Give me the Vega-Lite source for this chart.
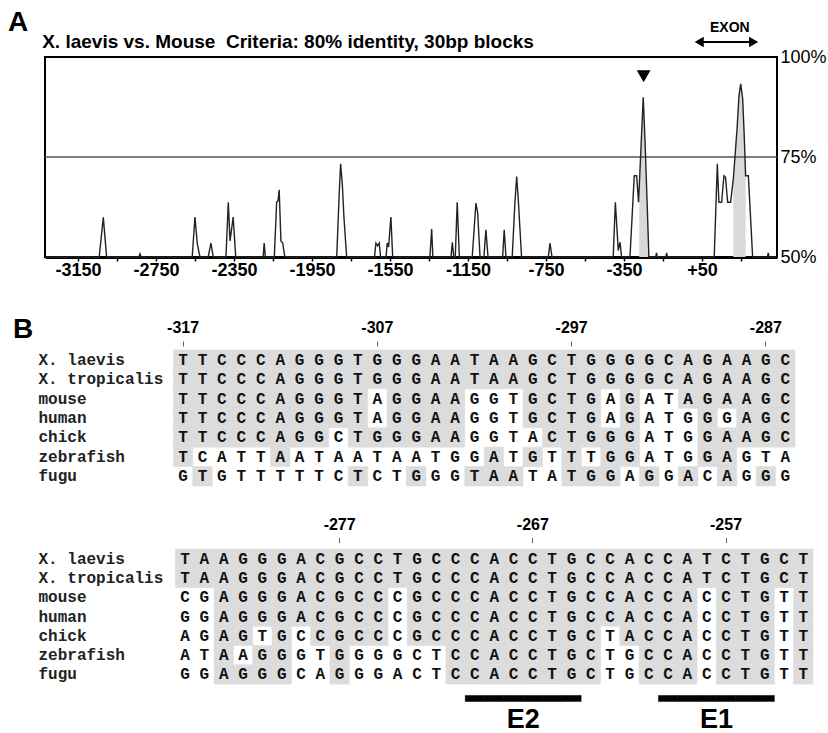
{
"$schema": "https://vega.github.io/schema/vega-lite/v6.json",
"background": "white",
"padding": {"left": 8, "top": 9, "right": 2, "bottom": 2},
"bounds": "flush",
"spacing": 62.5,
"title": {"text": "A", "anchor": "start", "font": "Liberation Sans", "fontSize": 28, "fontWeight": "bold", "color": "black", "dx": -5, "dy": 19, "offset": 2},
"config": {"view": {"stroke": null}, "font": "Liberation Sans", "axis": {"grid": false}},
"datasets": {
"curve": [
{"pos":-3319,"pct":50},
{"pos":-3041,"pct":50},{"pos":-3020,"pct":59.9},{"pos":-3003,"pct":50},
{"pos":-2838,"pct":50},{"pos":-2832,"pct":50.8},{"pos":-2826,"pct":50},
{"pos":-2564,"pct":50},{"pos":-2550,"pct":60},{"pos":-2538,"pct":53.3},{"pos":-2524,"pct":50},
{"pos":-2482,"pct":50},{"pos":-2468,"pct":53.5},{"pos":-2456,"pct":50},
{"pos":-2391,"pct":50},{"pos":-2379,"pct":63.7},{"pos":-2370,"pct":54},{"pos":-2354,"pct":60},{"pos":-2341,"pct":50},
{"pos":-2200,"pct":50},{"pos":-2195,"pct":53.5},{"pos":-2189,"pct":50},
{"pos":-2143,"pct":50},{"pos":-2131,"pct":63.7},{"pos":-2124,"pct":64},{"pos":-2118,"pct":66.8},{"pos":-2109,"pct":54},{"pos":-2100,"pct":53.5},{"pos":-2089,"pct":50},
{"pos":-1823,"pct":50},{"pos":-1810,"pct":66},{"pos":-1803,"pct":73.3},{"pos":-1794,"pct":68},{"pos":-1786,"pct":60},{"pos":-1772,"pct":50},
{"pos":-1629,"pct":50},{"pos":-1622,"pct":53.5},{"pos":-1613,"pct":52.8},{"pos":-1605,"pct":53.5},{"pos":-1598,"pct":50},
{"pos":-1570,"pct":50},{"pos":-1564,"pct":53.5},{"pos":-1557,"pct":52.5},{"pos":-1545,"pct":60},{"pos":-1536,"pct":50},
{"pos":-1345,"pct":50},{"pos":-1336,"pct":57},{"pos":-1330,"pct":50},
{"pos":-1237,"pct":50},{"pos":-1230,"pct":53.7},{"pos":-1223,"pct":50},{"pos":-1215,"pct":50},{"pos":-1205,"pct":63.7},{"pos":-1194,"pct":50},
{"pos":-1128,"pct":50},{"pos":-1109,"pct":63.5},{"pos":-1100,"pct":61},{"pos":-1088,"pct":50},
{"pos":-1068,"pct":50},{"pos":-1058,"pct":56.8},{"pos":-1047,"pct":50},
{"pos":-972,"pct":50},{"pos":-964,"pct":56.8},{"pos":-955,"pct":50},
{"pos":-923,"pct":50},{"pos":-909,"pct":63.7},{"pos":-900,"pct":70.1},{"pos":-892,"pct":64.5},{"pos":-875,"pct":50},
{"pos":-738,"pct":50},{"pos":-729,"pct":53.5},{"pos":-719,"pct":50},
{"pos":-405,"pct":50},{"pos":-394,"pct":63.7},{"pos":-379,"pct":51.6},{"pos":-370,"pct":53.7},{"pos":-362,"pct":50},
{"pos":-319,"pct":50},{"pos":-297,"pct":70.3},{"pos":-285,"pct":70.3},{"pos":-275,"pct":63.7},{"pos":-251,"pct":89.9},{"pos":-241,"pct":78},{"pos":-230,"pct":62},{"pos":-222,"pct":50},
{"pos":-187,"pct":50},{"pos":-183,"pct":51},{"pos":-179,"pct":50},
{"pos":-135,"pct":50},{"pos":-131,"pct":51},{"pos":-127,"pct":50},
{"pos":113,"pct":50},{"pos":129,"pct":73.3},{"pos":137,"pct":63.7},{"pos":151,"pct":63.7},{"pos":163,"pct":70.3},{"pos":171,"pct":69.9},{"pos":182,"pct":63.7},{"pos":197,"pct":63.7},{"pos":211,"pct":69.5},{"pos":230,"pct":82},{"pos":240,"pct":90.3},{"pos":249,"pct":93.3},{"pos":259,"pct":89.5},{"pos":267,"pct":80.3},{"pos":274,"pct":70.3},{"pos":288,"pct":70.3},{"pos":310,"pct":50},
{"pos":386,"pct":50},{"pos":390,"pct":51},{"pos":394,"pct":50},
{"pos":435,"pct":50}
],
"fill": [
{"g":1,"pos":-271.5,"pct":67.5},{"g":1,"pos":-251,"pct":89.9},{"g":1,"pos":-241,"pct":78},{"g":1,"pos":-230,"pct":62},{"g":1,"pos":-225.2,"pct":54.8},
{"g":2,"pos":211,"pct":69.5},{"g":2,"pos":230,"pct":82},{"g":2,"pos":240,"pct":90.3},{"g":2,"pos":249,"pct":93.3},{"g":2,"pos":259,"pct":89.5},{"g":2,"pos":267,"pct":80.3},{"g":2,"pos":274,"pct":70.3}
],
"thr": [{"v": 75}],
"peak": [{"pos": -249, "pct": 95.2}],
"exon": [{"a": 20, "b": 330, "lx": 36, "rx": 315, "tx": 193, "y": 103.75, "ty": 107.2, "label": "EXON"}],
"ebar": [
{"s":"E-bar","p":-270},{"s":"E-bar","p":-269},{"s":"E-bar","p":-268},{"s":"E-bar","p":-267},{"s":"E-bar","p":-266},{"s":"E-bar","p":-265},
{"s":"E-bar","p":-260},{"s":"E-bar","p":-259},{"s":"E-bar","p":-258},{"s":"E-bar","p":-257},{"s":"E-bar","p":-256},{"s":"E-bar","p":-255}
],
"elab": [{"s":"E-label","p":-268,"t":"E2"},{"s":"E-label","p":-258,"t":"E1"}],
"seq": [
{"s":"X. laevis","p":-317,"b":"T","m":1},{"s":"X. laevis","p":-316,"b":"T","m":1},{"s":"X. laevis","p":-315,"b":"C","m":1},{"s":"X. laevis","p":-314,"b":"C","m":1},{"s":"X. laevis","p":-313,"b":"C","m":1},{"s":"X. laevis","p":-312,"b":"A","m":1},{"s":"X. laevis","p":-311,"b":"G","m":1},{"s":"X. laevis","p":-310,"b":"G","m":1},{"s":"X. laevis","p":-309,"b":"G","m":1},{"s":"X. laevis","p":-308,"b":"T","m":1},{"s":"X. laevis","p":-307,"b":"G","m":1},{"s":"X. laevis","p":-306,"b":"G","m":1},{"s":"X. laevis","p":-305,"b":"G","m":1},{"s":"X. laevis","p":-304,"b":"A","m":1},{"s":"X. laevis","p":-303,"b":"A","m":1},{"s":"X. laevis","p":-302,"b":"T","m":1},{"s":"X. laevis","p":-301,"b":"A","m":1},{"s":"X. laevis","p":-300,"b":"A","m":1},{"s":"X. laevis","p":-299,"b":"G","m":1},{"s":"X. laevis","p":-298,"b":"C","m":1},{"s":"X. laevis","p":-297,"b":"T","m":1},{"s":"X. laevis","p":-296,"b":"G","m":1},{"s":"X. laevis","p":-295,"b":"G","m":1},{"s":"X. laevis","p":-294,"b":"G","m":1},{"s":"X. laevis","p":-293,"b":"G","m":1},{"s":"X. laevis","p":-292,"b":"C","m":1},{"s":"X. laevis","p":-291,"b":"A","m":1},{"s":"X. laevis","p":-290,"b":"G","m":1},{"s":"X. laevis","p":-289,"b":"A","m":1},{"s":"X. laevis","p":-288,"b":"A","m":1},{"s":"X. laevis","p":-287,"b":"G","m":1},{"s":"X. laevis","p":-286,"b":"C","m":1},
{"s":"X. laevis","p":-285,"b":"T","m":1},{"s":"X. laevis","p":-284,"b":"A","m":1},{"s":"X. laevis","p":-283,"b":"A","m":1},{"s":"X. laevis","p":-282,"b":"G","m":1},{"s":"X. laevis","p":-281,"b":"G","m":1},{"s":"X. laevis","p":-280,"b":"G","m":1},{"s":"X. laevis","p":-279,"b":"A","m":1},{"s":"X. laevis","p":-278,"b":"C","m":1},{"s":"X. laevis","p":-277,"b":"G","m":1},{"s":"X. laevis","p":-276,"b":"C","m":1},{"s":"X. laevis","p":-275,"b":"C","m":1},{"s":"X. laevis","p":-274,"b":"T","m":1},{"s":"X. laevis","p":-273,"b":"G","m":1},{"s":"X. laevis","p":-272,"b":"C","m":1},{"s":"X. laevis","p":-271,"b":"C","m":1},{"s":"X. laevis","p":-270,"b":"C","m":1},{"s":"X. laevis","p":-269,"b":"A","m":1},{"s":"X. laevis","p":-268,"b":"C","m":1},{"s":"X. laevis","p":-267,"b":"C","m":1},{"s":"X. laevis","p":-266,"b":"T","m":1},{"s":"X. laevis","p":-265,"b":"G","m":1},{"s":"X. laevis","p":-264,"b":"C","m":1},{"s":"X. laevis","p":-263,"b":"C","m":1},{"s":"X. laevis","p":-262,"b":"A","m":1},{"s":"X. laevis","p":-261,"b":"C","m":1},{"s":"X. laevis","p":-260,"b":"C","m":1},{"s":"X. laevis","p":-259,"b":"A","m":1},{"s":"X. laevis","p":-258,"b":"T","m":1},{"s":"X. laevis","p":-257,"b":"C","m":1},{"s":"X. laevis","p":-256,"b":"T","m":1},{"s":"X. laevis","p":-255,"b":"G","m":1},{"s":"X. laevis","p":-254,"b":"C","m":1},{"s":"X. laevis","p":-253,"b":"T","m":1},
{"s":"X. tropicalis","p":-317,"b":"T","m":1},{"s":"X. tropicalis","p":-316,"b":"T","m":1},{"s":"X. tropicalis","p":-315,"b":"C","m":1},{"s":"X. tropicalis","p":-314,"b":"C","m":1},{"s":"X. tropicalis","p":-313,"b":"C","m":1},{"s":"X. tropicalis","p":-312,"b":"A","m":1},{"s":"X. tropicalis","p":-311,"b":"G","m":1},{"s":"X. tropicalis","p":-310,"b":"G","m":1},{"s":"X. tropicalis","p":-309,"b":"G","m":1},{"s":"X. tropicalis","p":-308,"b":"T","m":1},{"s":"X. tropicalis","p":-307,"b":"G","m":1},{"s":"X. tropicalis","p":-306,"b":"G","m":1},{"s":"X. tropicalis","p":-305,"b":"G","m":1},{"s":"X. tropicalis","p":-304,"b":"A","m":1},{"s":"X. tropicalis","p":-303,"b":"A","m":1},{"s":"X. tropicalis","p":-302,"b":"T","m":1},{"s":"X. tropicalis","p":-301,"b":"A","m":1},{"s":"X. tropicalis","p":-300,"b":"A","m":1},{"s":"X. tropicalis","p":-299,"b":"G","m":1},{"s":"X. tropicalis","p":-298,"b":"C","m":1},{"s":"X. tropicalis","p":-297,"b":"T","m":1},{"s":"X. tropicalis","p":-296,"b":"G","m":1},{"s":"X. tropicalis","p":-295,"b":"G","m":1},{"s":"X. tropicalis","p":-294,"b":"G","m":1},{"s":"X. tropicalis","p":-293,"b":"G","m":1},{"s":"X. tropicalis","p":-292,"b":"C","m":1},{"s":"X. tropicalis","p":-291,"b":"A","m":1},{"s":"X. tropicalis","p":-290,"b":"G","m":1},{"s":"X. tropicalis","p":-289,"b":"A","m":1},{"s":"X. tropicalis","p":-288,"b":"A","m":1},{"s":"X. tropicalis","p":-287,"b":"G","m":1},{"s":"X. tropicalis","p":-286,"b":"C","m":1},
{"s":"X. tropicalis","p":-285,"b":"T","m":1},{"s":"X. tropicalis","p":-284,"b":"A","m":1},{"s":"X. tropicalis","p":-283,"b":"A","m":1},{"s":"X. tropicalis","p":-282,"b":"G","m":1},{"s":"X. tropicalis","p":-281,"b":"G","m":1},{"s":"X. tropicalis","p":-280,"b":"G","m":1},{"s":"X. tropicalis","p":-279,"b":"A","m":1},{"s":"X. tropicalis","p":-278,"b":"C","m":1},{"s":"X. tropicalis","p":-277,"b":"G","m":1},{"s":"X. tropicalis","p":-276,"b":"C","m":1},{"s":"X. tropicalis","p":-275,"b":"C","m":1},{"s":"X. tropicalis","p":-274,"b":"T","m":1},{"s":"X. tropicalis","p":-273,"b":"G","m":1},{"s":"X. tropicalis","p":-272,"b":"C","m":1},{"s":"X. tropicalis","p":-271,"b":"C","m":1},{"s":"X. tropicalis","p":-270,"b":"C","m":1},{"s":"X. tropicalis","p":-269,"b":"A","m":1},{"s":"X. tropicalis","p":-268,"b":"C","m":1},{"s":"X. tropicalis","p":-267,"b":"C","m":1},{"s":"X. tropicalis","p":-266,"b":"T","m":1},{"s":"X. tropicalis","p":-265,"b":"G","m":1},{"s":"X. tropicalis","p":-264,"b":"C","m":1},{"s":"X. tropicalis","p":-263,"b":"C","m":1},{"s":"X. tropicalis","p":-262,"b":"A","m":1},{"s":"X. tropicalis","p":-261,"b":"C","m":1},{"s":"X. tropicalis","p":-260,"b":"C","m":1},{"s":"X. tropicalis","p":-259,"b":"A","m":1},{"s":"X. tropicalis","p":-258,"b":"T","m":1},{"s":"X. tropicalis","p":-257,"b":"C","m":1},{"s":"X. tropicalis","p":-256,"b":"T","m":1},{"s":"X. tropicalis","p":-255,"b":"G","m":1},{"s":"X. tropicalis","p":-254,"b":"C","m":1},{"s":"X. tropicalis","p":-253,"b":"T","m":1},
{"s":"mouse","p":-317,"b":"T","m":1},{"s":"mouse","p":-316,"b":"T","m":1},{"s":"mouse","p":-315,"b":"C","m":1},{"s":"mouse","p":-314,"b":"C","m":1},{"s":"mouse","p":-313,"b":"C","m":1},{"s":"mouse","p":-312,"b":"A","m":1},{"s":"mouse","p":-311,"b":"G","m":1},{"s":"mouse","p":-310,"b":"G","m":1},{"s":"mouse","p":-309,"b":"G","m":1},{"s":"mouse","p":-308,"b":"T","m":1},{"s":"mouse","p":-307,"b":"A","m":0},{"s":"mouse","p":-306,"b":"G","m":1},{"s":"mouse","p":-305,"b":"G","m":1},{"s":"mouse","p":-304,"b":"A","m":1},{"s":"mouse","p":-303,"b":"A","m":1},{"s":"mouse","p":-302,"b":"G","m":0},{"s":"mouse","p":-301,"b":"G","m":0},{"s":"mouse","p":-300,"b":"T","m":0},{"s":"mouse","p":-299,"b":"G","m":1},{"s":"mouse","p":-298,"b":"C","m":1},{"s":"mouse","p":-297,"b":"T","m":1},{"s":"mouse","p":-296,"b":"G","m":1},{"s":"mouse","p":-295,"b":"A","m":0},{"s":"mouse","p":-294,"b":"G","m":1},{"s":"mouse","p":-293,"b":"A","m":0},{"s":"mouse","p":-292,"b":"T","m":0},{"s":"mouse","p":-291,"b":"A","m":1},{"s":"mouse","p":-290,"b":"G","m":1},{"s":"mouse","p":-289,"b":"A","m":1},{"s":"mouse","p":-288,"b":"A","m":1},{"s":"mouse","p":-287,"b":"G","m":1},{"s":"mouse","p":-286,"b":"C","m":1},
{"s":"mouse","p":-285,"b":"C","m":0},{"s":"mouse","p":-284,"b":"G","m":0},{"s":"mouse","p":-283,"b":"A","m":1},{"s":"mouse","p":-282,"b":"G","m":1},{"s":"mouse","p":-281,"b":"G","m":1},{"s":"mouse","p":-280,"b":"G","m":1},{"s":"mouse","p":-279,"b":"A","m":1},{"s":"mouse","p":-278,"b":"C","m":1},{"s":"mouse","p":-277,"b":"G","m":1},{"s":"mouse","p":-276,"b":"C","m":1},{"s":"mouse","p":-275,"b":"C","m":1},{"s":"mouse","p":-274,"b":"C","m":0},{"s":"mouse","p":-273,"b":"G","m":1},{"s":"mouse","p":-272,"b":"C","m":1},{"s":"mouse","p":-271,"b":"C","m":1},{"s":"mouse","p":-270,"b":"C","m":1},{"s":"mouse","p":-269,"b":"A","m":1},{"s":"mouse","p":-268,"b":"C","m":1},{"s":"mouse","p":-267,"b":"C","m":1},{"s":"mouse","p":-266,"b":"T","m":1},{"s":"mouse","p":-265,"b":"G","m":1},{"s":"mouse","p":-264,"b":"C","m":1},{"s":"mouse","p":-263,"b":"C","m":1},{"s":"mouse","p":-262,"b":"A","m":1},{"s":"mouse","p":-261,"b":"C","m":1},{"s":"mouse","p":-260,"b":"C","m":1},{"s":"mouse","p":-259,"b":"A","m":1},{"s":"mouse","p":-258,"b":"C","m":0},{"s":"mouse","p":-257,"b":"C","m":1},{"s":"mouse","p":-256,"b":"T","m":1},{"s":"mouse","p":-255,"b":"G","m":1},{"s":"mouse","p":-254,"b":"T","m":0},{"s":"mouse","p":-253,"b":"T","m":1},
{"s":"human","p":-317,"b":"T","m":1},{"s":"human","p":-316,"b":"T","m":1},{"s":"human","p":-315,"b":"C","m":1},{"s":"human","p":-314,"b":"C","m":1},{"s":"human","p":-313,"b":"C","m":1},{"s":"human","p":-312,"b":"A","m":1},{"s":"human","p":-311,"b":"G","m":1},{"s":"human","p":-310,"b":"G","m":1},{"s":"human","p":-309,"b":"G","m":1},{"s":"human","p":-308,"b":"T","m":1},{"s":"human","p":-307,"b":"A","m":0},{"s":"human","p":-306,"b":"G","m":1},{"s":"human","p":-305,"b":"G","m":1},{"s":"human","p":-304,"b":"A","m":1},{"s":"human","p":-303,"b":"A","m":1},{"s":"human","p":-302,"b":"G","m":0},{"s":"human","p":-301,"b":"G","m":0},{"s":"human","p":-300,"b":"T","m":0},{"s":"human","p":-299,"b":"G","m":1},{"s":"human","p":-298,"b":"C","m":1},{"s":"human","p":-297,"b":"T","m":1},{"s":"human","p":-296,"b":"G","m":1},{"s":"human","p":-295,"b":"A","m":0},{"s":"human","p":-294,"b":"G","m":1},{"s":"human","p":-293,"b":"A","m":0},{"s":"human","p":-292,"b":"T","m":0},{"s":"human","p":-291,"b":"G","m":0},{"s":"human","p":-290,"b":"G","m":1},{"s":"human","p":-289,"b":"G","m":0},{"s":"human","p":-288,"b":"A","m":1},{"s":"human","p":-287,"b":"G","m":1},{"s":"human","p":-286,"b":"C","m":1},
{"s":"human","p":-285,"b":"G","m":0},{"s":"human","p":-284,"b":"G","m":0},{"s":"human","p":-283,"b":"A","m":1},{"s":"human","p":-282,"b":"G","m":1},{"s":"human","p":-281,"b":"G","m":1},{"s":"human","p":-280,"b":"G","m":1},{"s":"human","p":-279,"b":"A","m":1},{"s":"human","p":-278,"b":"C","m":1},{"s":"human","p":-277,"b":"G","m":1},{"s":"human","p":-276,"b":"C","m":1},{"s":"human","p":-275,"b":"C","m":1},{"s":"human","p":-274,"b":"C","m":0},{"s":"human","p":-273,"b":"G","m":1},{"s":"human","p":-272,"b":"C","m":1},{"s":"human","p":-271,"b":"C","m":1},{"s":"human","p":-270,"b":"C","m":1},{"s":"human","p":-269,"b":"A","m":1},{"s":"human","p":-268,"b":"C","m":1},{"s":"human","p":-267,"b":"C","m":1},{"s":"human","p":-266,"b":"T","m":1},{"s":"human","p":-265,"b":"G","m":1},{"s":"human","p":-264,"b":"C","m":1},{"s":"human","p":-263,"b":"C","m":1},{"s":"human","p":-262,"b":"A","m":1},{"s":"human","p":-261,"b":"C","m":1},{"s":"human","p":-260,"b":"C","m":1},{"s":"human","p":-259,"b":"A","m":1},{"s":"human","p":-258,"b":"C","m":0},{"s":"human","p":-257,"b":"C","m":1},{"s":"human","p":-256,"b":"T","m":1},{"s":"human","p":-255,"b":"G","m":1},{"s":"human","p":-254,"b":"T","m":0},{"s":"human","p":-253,"b":"T","m":1},
{"s":"chick","p":-317,"b":"T","m":1},{"s":"chick","p":-316,"b":"T","m":1},{"s":"chick","p":-315,"b":"C","m":1},{"s":"chick","p":-314,"b":"C","m":1},{"s":"chick","p":-313,"b":"C","m":1},{"s":"chick","p":-312,"b":"A","m":1},{"s":"chick","p":-311,"b":"G","m":1},{"s":"chick","p":-310,"b":"G","m":1},{"s":"chick","p":-309,"b":"C","m":0},{"s":"chick","p":-308,"b":"T","m":1},{"s":"chick","p":-307,"b":"G","m":1},{"s":"chick","p":-306,"b":"G","m":1},{"s":"chick","p":-305,"b":"G","m":1},{"s":"chick","p":-304,"b":"A","m":1},{"s":"chick","p":-303,"b":"A","m":1},{"s":"chick","p":-302,"b":"G","m":0},{"s":"chick","p":-301,"b":"G","m":0},{"s":"chick","p":-300,"b":"T","m":0},{"s":"chick","p":-299,"b":"A","m":0},{"s":"chick","p":-298,"b":"C","m":1},{"s":"chick","p":-297,"b":"T","m":1},{"s":"chick","p":-296,"b":"G","m":1},{"s":"chick","p":-295,"b":"G","m":1},{"s":"chick","p":-294,"b":"G","m":1},{"s":"chick","p":-293,"b":"A","m":0},{"s":"chick","p":-292,"b":"T","m":0},{"s":"chick","p":-291,"b":"G","m":0},{"s":"chick","p":-290,"b":"G","m":1},{"s":"chick","p":-289,"b":"A","m":1},{"s":"chick","p":-288,"b":"A","m":1},{"s":"chick","p":-287,"b":"G","m":1},{"s":"chick","p":-286,"b":"C","m":1},
{"s":"chick","p":-285,"b":"A","m":0},{"s":"chick","p":-284,"b":"G","m":0},{"s":"chick","p":-283,"b":"A","m":1},{"s":"chick","p":-282,"b":"G","m":1},{"s":"chick","p":-281,"b":"T","m":0},{"s":"chick","p":-280,"b":"G","m":1},{"s":"chick","p":-279,"b":"C","m":0},{"s":"chick","p":-278,"b":"C","m":1},{"s":"chick","p":-277,"b":"G","m":1},{"s":"chick","p":-276,"b":"C","m":1},{"s":"chick","p":-275,"b":"C","m":1},{"s":"chick","p":-274,"b":"C","m":0},{"s":"chick","p":-273,"b":"G","m":1},{"s":"chick","p":-272,"b":"C","m":1},{"s":"chick","p":-271,"b":"C","m":1},{"s":"chick","p":-270,"b":"C","m":1},{"s":"chick","p":-269,"b":"A","m":1},{"s":"chick","p":-268,"b":"C","m":1},{"s":"chick","p":-267,"b":"C","m":1},{"s":"chick","p":-266,"b":"T","m":1},{"s":"chick","p":-265,"b":"G","m":1},{"s":"chick","p":-264,"b":"C","m":1},{"s":"chick","p":-263,"b":"T","m":0},{"s":"chick","p":-262,"b":"A","m":1},{"s":"chick","p":-261,"b":"C","m":1},{"s":"chick","p":-260,"b":"C","m":1},{"s":"chick","p":-259,"b":"A","m":1},{"s":"chick","p":-258,"b":"C","m":0},{"s":"chick","p":-257,"b":"C","m":1},{"s":"chick","p":-256,"b":"T","m":1},{"s":"chick","p":-255,"b":"G","m":1},{"s":"chick","p":-254,"b":"T","m":0},{"s":"chick","p":-253,"b":"T","m":1},
{"s":"zebrafish","p":-317,"b":"T","m":1},{"s":"zebrafish","p":-316,"b":"C","m":0},{"s":"zebrafish","p":-315,"b":"A","m":0},{"s":"zebrafish","p":-314,"b":"T","m":0},{"s":"zebrafish","p":-313,"b":"T","m":0},{"s":"zebrafish","p":-312,"b":"A","m":1},{"s":"zebrafish","p":-311,"b":"A","m":0},{"s":"zebrafish","p":-310,"b":"T","m":0},{"s":"zebrafish","p":-309,"b":"A","m":0},{"s":"zebrafish","p":-308,"b":"A","m":0},{"s":"zebrafish","p":-307,"b":"T","m":0},{"s":"zebrafish","p":-306,"b":"A","m":0},{"s":"zebrafish","p":-305,"b":"A","m":0},{"s":"zebrafish","p":-304,"b":"T","m":0},{"s":"zebrafish","p":-303,"b":"G","m":0},{"s":"zebrafish","p":-302,"b":"G","m":0},{"s":"zebrafish","p":-301,"b":"A","m":1},{"s":"zebrafish","p":-300,"b":"T","m":0},{"s":"zebrafish","p":-299,"b":"G","m":1},{"s":"zebrafish","p":-298,"b":"T","m":0},{"s":"zebrafish","p":-297,"b":"T","m":1},{"s":"zebrafish","p":-296,"b":"T","m":0},{"s":"zebrafish","p":-295,"b":"G","m":1},{"s":"zebrafish","p":-294,"b":"G","m":1},{"s":"zebrafish","p":-293,"b":"A","m":0},{"s":"zebrafish","p":-292,"b":"T","m":0},{"s":"zebrafish","p":-291,"b":"G","m":0},{"s":"zebrafish","p":-290,"b":"G","m":1},{"s":"zebrafish","p":-289,"b":"A","m":1},{"s":"zebrafish","p":-288,"b":"G","m":0},{"s":"zebrafish","p":-287,"b":"T","m":0},{"s":"zebrafish","p":-286,"b":"A","m":0},
{"s":"zebrafish","p":-285,"b":"A","m":0},{"s":"zebrafish","p":-284,"b":"T","m":0},{"s":"zebrafish","p":-283,"b":"A","m":1},{"s":"zebrafish","p":-282,"b":"A","m":0},{"s":"zebrafish","p":-281,"b":"G","m":1},{"s":"zebrafish","p":-280,"b":"G","m":1},{"s":"zebrafish","p":-279,"b":"G","m":0},{"s":"zebrafish","p":-278,"b":"T","m":0},{"s":"zebrafish","p":-277,"b":"G","m":1},{"s":"zebrafish","p":-276,"b":"G","m":0},{"s":"zebrafish","p":-275,"b":"G","m":0},{"s":"zebrafish","p":-274,"b":"G","m":0},{"s":"zebrafish","p":-273,"b":"C","m":0},{"s":"zebrafish","p":-272,"b":"T","m":0},{"s":"zebrafish","p":-271,"b":"C","m":1},{"s":"zebrafish","p":-270,"b":"C","m":1},{"s":"zebrafish","p":-269,"b":"A","m":1},{"s":"zebrafish","p":-268,"b":"C","m":1},{"s":"zebrafish","p":-267,"b":"C","m":1},{"s":"zebrafish","p":-266,"b":"T","m":1},{"s":"zebrafish","p":-265,"b":"G","m":1},{"s":"zebrafish","p":-264,"b":"C","m":1},{"s":"zebrafish","p":-263,"b":"T","m":0},{"s":"zebrafish","p":-262,"b":"G","m":0},{"s":"zebrafish","p":-261,"b":"C","m":1},{"s":"zebrafish","p":-260,"b":"C","m":1},{"s":"zebrafish","p":-259,"b":"A","m":1},{"s":"zebrafish","p":-258,"b":"C","m":0},{"s":"zebrafish","p":-257,"b":"C","m":1},{"s":"zebrafish","p":-256,"b":"T","m":1},{"s":"zebrafish","p":-255,"b":"G","m":1},{"s":"zebrafish","p":-254,"b":"T","m":0},{"s":"zebrafish","p":-253,"b":"T","m":1},
{"s":"fugu","p":-317,"b":"G","m":0},{"s":"fugu","p":-316,"b":"T","m":1},{"s":"fugu","p":-315,"b":"G","m":0},{"s":"fugu","p":-314,"b":"T","m":0},{"s":"fugu","p":-313,"b":"T","m":0},{"s":"fugu","p":-312,"b":"T","m":0},{"s":"fugu","p":-311,"b":"T","m":0},{"s":"fugu","p":-310,"b":"T","m":0},{"s":"fugu","p":-309,"b":"C","m":0},{"s":"fugu","p":-308,"b":"T","m":1},{"s":"fugu","p":-307,"b":"C","m":0},{"s":"fugu","p":-306,"b":"T","m":0},{"s":"fugu","p":-305,"b":"G","m":1},{"s":"fugu","p":-304,"b":"G","m":0},{"s":"fugu","p":-303,"b":"G","m":0},{"s":"fugu","p":-302,"b":"T","m":1},{"s":"fugu","p":-301,"b":"A","m":1},{"s":"fugu","p":-300,"b":"A","m":1},{"s":"fugu","p":-299,"b":"T","m":0},{"s":"fugu","p":-298,"b":"A","m":0},{"s":"fugu","p":-297,"b":"T","m":1},{"s":"fugu","p":-296,"b":"G","m":1},{"s":"fugu","p":-295,"b":"G","m":1},{"s":"fugu","p":-294,"b":"A","m":0},{"s":"fugu","p":-293,"b":"G","m":1},{"s":"fugu","p":-292,"b":"G","m":0},{"s":"fugu","p":-291,"b":"A","m":1},{"s":"fugu","p":-290,"b":"C","m":0},{"s":"fugu","p":-289,"b":"A","m":1},{"s":"fugu","p":-288,"b":"G","m":0},{"s":"fugu","p":-287,"b":"G","m":1},{"s":"fugu","p":-286,"b":"G","m":0},
{"s":"fugu","p":-285,"b":"G","m":0},{"s":"fugu","p":-284,"b":"G","m":0},{"s":"fugu","p":-283,"b":"A","m":1},{"s":"fugu","p":-282,"b":"G","m":1},{"s":"fugu","p":-281,"b":"G","m":1},{"s":"fugu","p":-280,"b":"G","m":1},{"s":"fugu","p":-279,"b":"C","m":0},{"s":"fugu","p":-278,"b":"A","m":0},{"s":"fugu","p":-277,"b":"G","m":1},{"s":"fugu","p":-276,"b":"G","m":0},{"s":"fugu","p":-275,"b":"G","m":0},{"s":"fugu","p":-274,"b":"A","m":0},{"s":"fugu","p":-273,"b":"C","m":0},{"s":"fugu","p":-272,"b":"T","m":0},{"s":"fugu","p":-271,"b":"C","m":1},{"s":"fugu","p":-270,"b":"C","m":1},{"s":"fugu","p":-269,"b":"A","m":1},{"s":"fugu","p":-268,"b":"C","m":1},{"s":"fugu","p":-267,"b":"C","m":1},{"s":"fugu","p":-266,"b":"T","m":1},{"s":"fugu","p":-265,"b":"G","m":1},{"s":"fugu","p":-264,"b":"C","m":1},{"s":"fugu","p":-263,"b":"T","m":0},{"s":"fugu","p":-262,"b":"G","m":0},{"s":"fugu","p":-261,"b":"C","m":1},{"s":"fugu","p":-260,"b":"C","m":1},{"s":"fugu","p":-259,"b":"A","m":1},{"s":"fugu","p":-258,"b":"C","m":0},{"s":"fugu","p":-257,"b":"C","m":1},{"s":"fugu","p":-256,"b":"T","m":1},{"s":"fugu","p":-255,"b":"G","m":1},{"s":"fugu","p":-254,"b":"T","m":0},{"s":"fugu","p":-253,"b":"T","m":1}
]
},
"vconcat": [
{
 "width": 732, "height": 200,
 "view": {"stroke": "black", "strokeWidth": 2},
 "title": {"text": "X. laevis vs. Mouse\u00a0\u00a0Criteria: 80% identity, 30bp blocks", "anchor": "start", "font": "Liberation Sans", "fontSize": 19, "fontWeight": "bold", "color": "black", "offset": 2, "dy": 33},
 "layer": [
  {"data": {"name": "fill"}, "mark": {"type": "area", "color": "#d9d9d9", "opacity": 1},
   "encoding": {
    "x": {"field": "pos", "type": "quantitative", "scale": {"domain": [-3319, 435], "nice": false, "zero": false},
      "axis": {"orient": "bottom", "title": null, "values": [-3150,-2950,-2750,-2550,-2350,-2150,-1950,-1750,-1550,-1350,-1150,-950,-750,-550,-350,-150,50,250],
        "labelExpr": "(datum.value + 3150) % 400 == 0 ? (datum.value > 0 ? '+' + datum.value : '' + datum.value) : ''",
        "labelFont": "Liberation Sans", "labelFontSize": 18, "labelFontWeight": "bold", "labelColor": "black", "labelFlush": false, "labelOverlap": false,
        "labelBaseline": "alphabetic", "labelPadding": 14, "tickSize": 4, "tickColor": "black", "tickWidth": 1.5, "domainColor": "black", "domainWidth": 3, "grid": false}},
    "y": {"field": "pct", "type": "quantitative", "scale": {"domain": [50, 100], "nice": false, "zero": false},
      "axis": {"orient": "right", "title": null, "values": [50, 75, 100], "labelExpr": "datum.value + '%'", "labelFont": "Liberation Sans", "labelFontSize": 18, "labelColor": "black", "labelFlush": false, "labelBaseline": "middle", "labelPadding": 3, "domain": false, "ticks": false, "grid": false}},
    "y2": {"datum": 50},
    "detail": {"field": "g", "type": "nominal"}
   }},
  {"data": {"name": "thr"}, "mark": {"type": "rule", "color": "#555555", "strokeWidth": 1.5},
   "encoding": {"y": {"field": "v", "type": "quantitative"}}},
  {"data": {"name": "curve"}, "mark": {"type": "line", "color": "#222222", "strokeWidth": 1.4, "interpolate": "linear"},
   "encoding": {"x": {"field": "pos", "type": "quantitative"}, "y": {"field": "pct", "type": "quantitative"}}},
  {"data": {"name": "peak"}, "mark": {"type": "point", "shape": "triangle-down", "filled": true, "color": "black", "size": 190, "opacity": 1},
   "encoding": {"x": {"field": "pos", "type": "quantitative"}, "y": {"field": "pct", "type": "quantitative"}}},
  {"data": {"name": "exon"}, "mark": {"type": "rule", "color": "black", "strokeWidth": 2},
   "encoding": {"x": {"field": "a", "type": "quantitative"}, "x2": {"field": "b"}, "y": {"field": "y", "type": "quantitative"}}},
  {"data": {"name": "exon"}, "mark": {"type": "point", "shape": "triangle-left", "filled": true, "color": "black", "size": 110, "opacity": 1},
   "encoding": {"x": {"field": "lx", "type": "quantitative"}, "y": {"field": "y", "type": "quantitative"}}},
  {"data": {"name": "exon"}, "mark": {"type": "point", "shape": "triangle-right", "filled": true, "color": "black", "size": 110, "opacity": 1},
   "encoding": {"x": {"field": "rx", "type": "quantitative"}, "y": {"field": "y", "type": "quantitative"}}},
  {"data": {"name": "exon"}, "mark": {"type": "text", "font": "Liberation Sans", "fontSize": 14, "fontWeight": "bold", "color": "black", "baseline": "middle", "align": "center"},
   "encoding": {"x": {"field": "tx", "type": "quantitative"}, "y": {"field": "ty", "type": "quantitative"}, "text": {"field": "label"}}}
 ]
},
{
 "width": 750, "height": 166.5,
 "title": {"text": "B", "anchor": "start", "font": "Liberation Sans", "fontSize": 28, "fontWeight": "bold", "color": "black", "dx": -25, "dy": 29},
 "data": {"name": "seq"},
 "encoding": {
  "x": {"field": "p", "type": "ordinal",
    "scale": {"domain": [-323,-322,-321,-320,-319,-318,-317,-316,-315,-314,-313,-312,-311,-310,-309,-308,-307,-306,-305,-304,-303,-302,-301,-300,-299,-298,-297,-296,-295,-294,-293,-292,-291,-290,-289,-288,-287,-286], "paddingInner": 0, "paddingOuter": 0.3035, "align": 1},
    "axis": {"orient": "top", "title": null, "values": [-317,-307,-297,-287], "offset": -26.5, "tickSize": 5, "tickColor": "#666666", "tickWidth": 1, "domain": false, "labelAngle": 0, "labelFont": "Liberation Sans", "labelFontSize": 16, "labelFontWeight": "bold", "labelColor": "black", "labelPadding": 9, "labelBaseline": "alphabetic", "grid": false}},
  "y": {"field": "s", "type": "nominal",
    "scale": {"domain": ["X. laevis","X. tropicalis","mouse","human","chick","zebrafish","fugu"], "paddingInner": 0, "paddingOuter": 0.785, "align": 1},
    "axis": {"orient": "left", "title": null, "domain": false, "ticks": false, "labelAlign": "left", "labelBaseline": "middle", "labelPadding": 7, "labelFont": "Liberation Mono", "labelFontSize": 16, "labelFontWeight": "bold", "labelColor": "#222222", "grid": false}}
 },
 "layer": [
  {"transform": [{"filter": "datum.p <= -286 && datum.m == 1"}], "mark": {"type": "rect", "color": "#dcdcdc", "stroke": "#dcdcdc", "strokeWidth": 0.6}},
  {"transform": [{"filter": "datum.p <= -286"}], "mark": {"type": "text", "font": "Liberation Mono", "fontSize": 16, "fontWeight": "bold", "color": "#111111", "baseline": "middle", "align": "center"},
   "encoding": {"text": {"field": "b"}}}
 ]
},
{
 "width": 768, "height": 173.7,
 "data": {"name": "seq"},
 "encoding": {
  "x": {"field": "p", "type": "ordinal",
    "scale": {"domain": [-291,-290,-289,-288,-287,-286,-285,-284,-283,-282,-281,-280,-279,-278,-277,-276,-275,-274,-273,-272,-271,-270,-269,-268,-267,-266,-265,-264,-263,-262,-261,-260,-259,-258,-257,-256,-255,-254,-253], "paddingInner": 0, "paddingOuter": 0.375, "align": 1},
    "axis": {"orient": "top", "title": null, "values": [-277,-267,-257], "offset": 6.5, "tickSize": 5, "tickColor": "#666666", "tickWidth": 1, "domain": false, "labelAngle": 0, "labelFont": "Liberation Sans", "labelFontSize": 16, "labelFontWeight": "bold", "labelColor": "black", "labelPadding": 8, "labelBaseline": "alphabetic", "grid": false}},
  "y": {"field": "s", "type": "nominal",
    "scale": {"domain": ["X. laevis","X. tropicalis","mouse","human","chick","zebrafish","fugu","E-bar","E-label"], "paddingInner": 0, "paddingOuter": 0},
    "axis": {"orient": "left", "title": null, "domain": false, "ticks": false, "labelAlign": "left", "labelBaseline": "middle", "labelPadding": 7, "labelFont": "Liberation Mono", "labelFontSize": 16, "labelFontWeight": "bold", "labelColor": "#222222", "grid": false,
      "labelExpr": "indexof(['E-bar','E-label'], datum.value) >= 0 ? '' : datum.value"}}
 },
 "layer": [
  {"transform": [{"filter": "datum.p >= -285 && datum.m == 1"}], "mark": {"type": "rect", "color": "#dcdcdc", "stroke": "#dcdcdc", "strokeWidth": 0.6}},
  {"transform": [{"filter": "datum.p >= -285"}], "mark": {"type": "text", "font": "Liberation Mono", "fontSize": 16, "fontWeight": "bold", "color": "#111111", "baseline": "middle", "align": "center"},
   "encoding": {"text": {"field": "b"}}},
  {"data": {"name": "ebar"}, "mark": {"type": "rect", "height": 6, "color": "black", "stroke": "black", "strokeWidth": 0.5, "opacity": 1, "yOffset": 4.7}},
  {"data": {"name": "elab"}, "mark": {"type": "text", "font": "Liberation Sans", "fontSize": 27, "fontWeight": "bold", "color": "black", "baseline": "middle", "align": "center", "dy": 6.5},
   "encoding": {"x": {"field": "p", "type": "ordinal", "bandPosition": 1}, "text": {"field": "t"}}}
 ]
}
]
}
